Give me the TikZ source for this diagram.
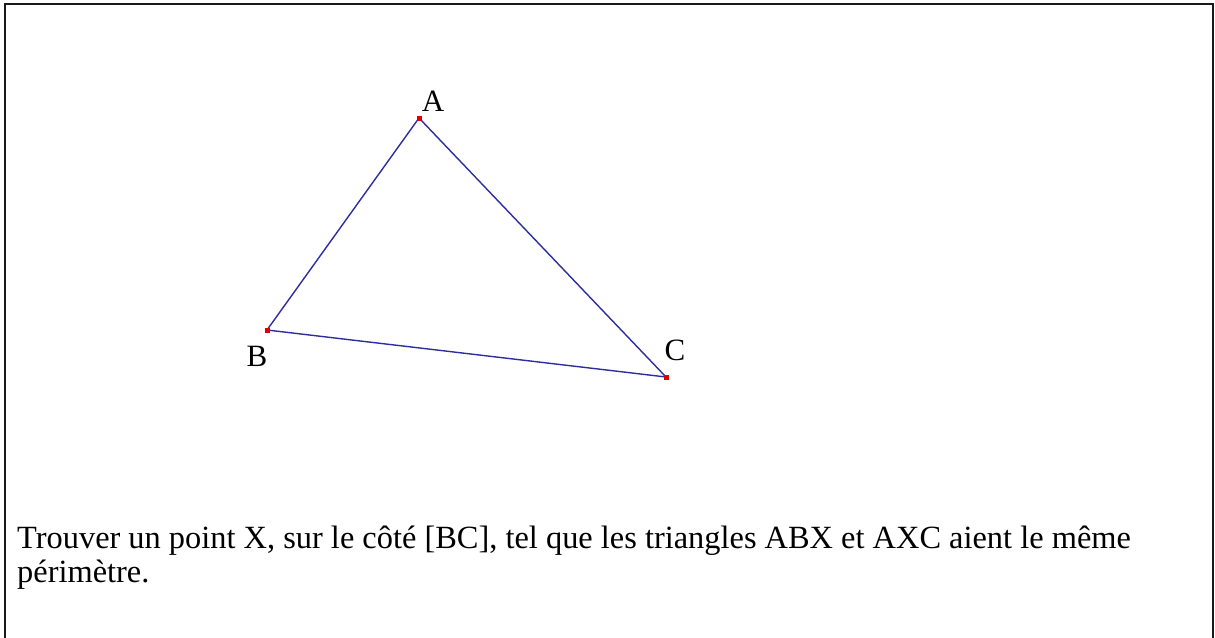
\documentclass[tikz,border=0pt]{standalone}
\usepackage{fontspec}
\setmainfont{Liberation Serif}
\definecolor{segblue}{RGB}{45,45,160}
\definecolor{ptred}{RGB}{220,0,0}
\tikzset{
  seg/.style={draw=segblue, line width=1.4pt},
  pt/.style={fill=ptred, draw=none, minimum size=5pt, inner sep=0pt, rectangle},
  lbl/.style={font=\fontsize{31}{34}\selectfont, inner sep=0pt, anchor=center},
  txtline/.style={anchor=base west, inner sep=0pt, font=\fontsize{32.4}{36}\selectfont},
  frame/.style={draw=black!90, line width=2.2pt}
}
\begin{document}
\begin{tikzpicture}[x=1pt,y=-1pt]
\useasboundingbox (0,0) rectangle (1215,637);
\draw[frame] (5,640) -- (5,4) -- (1213,4) -- (1213,640);
\coordinate (A) at (419,118);
\coordinate (B) at (267,330);
\coordinate (C) at (666,377);
\draw[seg] (A) -- (B) -- (C) -- cycle;
\node[pt] (pA) at (A) {};
\node[pt] (pB) at (B) {};
\node[pt] (pC) at (C) {};
\node[lbl] (lA) at (433,101) {A};
\node[lbl] (lB) at (257,356) {B};
\node[lbl] (lC) at (675,350) {C};
\node[txtline] (t1) at (17,548)
  {Trouver un point X, sur le côté [BC], tel que les triangles ABX et AXC aient le même};
\node[txtline] (t2) at (17,582) {périmètre.};
\end{tikzpicture}
\end{document}
